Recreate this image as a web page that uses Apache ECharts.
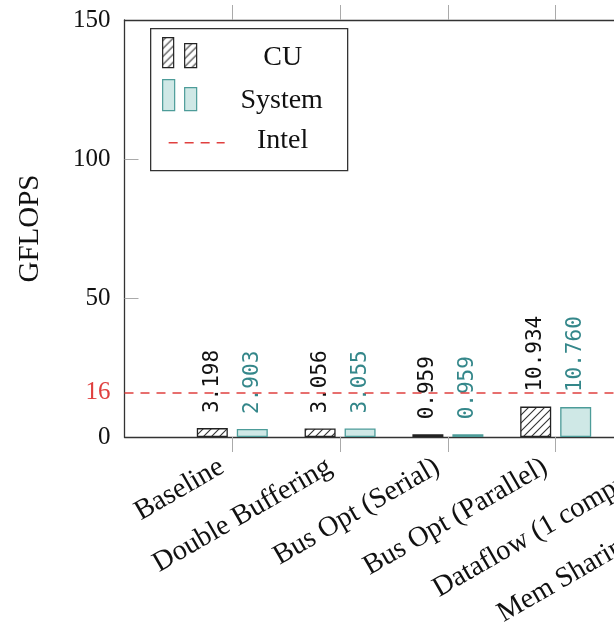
<!DOCTYPE html>
<html>
<head>
<meta charset="utf-8">
<script src="https://cdn.jsdelivr.net/npm/echarts@6/dist/echarts.min.js"></script>
<style>
  html, body { margin: 0; padding: 0; background: #fff; }
  #chart { width: 614px; height: 624px; }
</style>
</head>
<body>
<div id="chart"></div>
<script>
// Optimisation steps (x positions 1..n on the category scale)
const categories = [
  'Baseline',
  'Double Buffering',
  'Bus Opt (Serial)',
  'Bus Opt (Parallel)',
  'Dataflow (1 compute)',
  'Mem Sharing (2 compute)'
];
// GFLOPS measured for the compute unit alone and for the whole system
const cuValues = [3.198, 3.056, 0.959, 10.934];
const systemValues = [2.903, 3.055, 0.959, 10.760];
// Reference CPU throughput
const intelPeak = 16;
const yTicks = [0, 50, 100, 150];

const SERIF = "'Liberation Serif', 'DejaVu Serif', serif";
const MONO = "'DejaVu Sans Mono', monospace";
const TEAL_FILL = '#cfe8e6';
const TEAL_EDGE = '#4d9c99';
const TEAL_TEXT = '#34878a';
const RED = '#e0403f';

// North-east hatching tile used for the CU bars
function hatchTile() {
  const c = document.createElement('canvas');
  c.width = 8; c.height = 8;
  const g = c.getContext('2d');
  g.fillStyle = '#fff';
  g.fillRect(0, 0, 8, 8);
  g.strokeStyle = '#333';
  g.lineWidth = 1.1;
  g.beginPath();
  g.moveTo(0, 8); g.lineTo(8, 0);
  g.moveTo(-2, 2); g.lineTo(2, -2);
  g.moveTo(6, 10); g.lineTo(10, 6);
  g.stroke();
  return c;
}
const hatch = { image: hatchTile(), repeat: 'repeat' };

const toPoints = vals => vals.map((v, i) => [i + 1, v]);
// Ticks only at category positions, not at the frame corner
const categoryTicks = categories.map((_, i) => i + 1);

const chart = echarts.init(document.getElementById('chart'), null, { renderer: 'canvas' });

const xCommon = {
  type: 'value',
  min: 0,
  max: 6.5,
  interval: 1,
  splitLine: { show: false },
  axisLine: { show: true, onZero: false, lineStyle: { color: '#333', width: 1.3 } },
  axisTick: { show: true, inside: false, length: 15, customValues: categoryTicks,
              lineStyle: { color: '#aaa', width: 1 } }
};

const legendX = 150, legendY = 28;

chart.setOption({
  animation: false,
  grid: { left: 124.5, top: 20, width: 700.7, height: 417, containLabel: false, outerBoundsMode: 'none' },
  xAxis: [
    Object.assign({}, xCommon, {
      position: 'bottom',
      axisLabel: {
        rotate: 30,
        margin: 22,
        padding: [0, 12, 0, 0],
        fontFamily: SERIF,
        fontSize: 28.5,
        color: '#111',
        formatter: v => categories[v - 1] || ''
      }
    }),
    Object.assign({}, xCommon, {
      position: 'top',
      axisLabel: { show: false }
    })
  ],
  yAxis: {
    type: 'value',
    min: yTicks[0],
    max: yTicks[yTicks.length - 1],
    interval: 50,
    name: 'GFLOPS',
    nameLocation: 'middle',
    nameGap: 80,
    nameTextStyle: { fontFamily: SERIF, fontSize: 29, color: '#111' },
    splitLine: { show: false },
    axisLine: { show: true, lineStyle: { color: '#333', width: 1.3 } },
    axisTick: { show: true, inside: true, length: 14, customValues: yTicks.slice(1, -1),
                lineStyle: { color: '#aaa', width: 1 } },
    axisLabel: { margin: 14, fontFamily: SERIF, fontSize: 25, color: '#111' }
  },
  series: [
    {
      name: 'CU',
      type: 'bar',
      data: toPoints(cuValues),
      barWidth: 31,
      barGap: '29%',
      itemStyle: { color: hatch, borderColor: '#222', borderWidth: 1.3 },
      label: {
        show: true,
        position: 'top',
        distance: 15,
        rotate: 90,
        align: 'left',
        verticalAlign: 'middle',
        fontFamily: MONO,
        fontSize: 21,
        color: '#111',
        formatter: p => p.value[1].toFixed(3)
      },
      markLine: {
        silent: true,
        symbol: ['none', 'none'],
        lineStyle: { color: RED, type: [9, 7], width: 1.5 },
        label: {
          show: true,
          position: 'start',
          distance: 14,
          formatter: String(intelPeak),
          fontFamily: SERIF,
          fontSize: 25,
          color: RED
        },
        data: [{ yAxis: intelPeak }]
      }
    },
    {
      name: 'System',
      type: 'bar',
      data: toPoints(systemValues),
      barWidth: 31,
      itemStyle: { color: TEAL_FILL, borderColor: TEAL_EDGE, borderWidth: 1.3 },
      label: {
        show: true,
        position: 'top',
        distance: 15,
        rotate: 90,
        align: 'left',
        verticalAlign: 'middle',
        fontFamily: MONO,
        fontSize: 21,
        color: TEAL_TEXT,
        formatter: p => p.value[1].toFixed(3)
      }
    }
  ],
  graphic: [
    {
      type: 'group',
      left: legendX,
      top: legendY,
      children: [
        { type: 'rect', shape: { x: 0, y: 0, width: 197, height: 142 },
          style: { fill: '#fff', stroke: '#333', lineWidth: 1.3 } },
        { type: 'rect', shape: { x: 12, y: 9, width: 11, height: 30 },
          style: { fill: hatch, stroke: '#222', lineWidth: 1.2 } },
        { type: 'rect', shape: { x: 34, y: 15, width: 12, height: 24 },
          style: { fill: hatch, stroke: '#222', lineWidth: 1.2 } },
        { type: 'rect', shape: { x: 12, y: 51, width: 12, height: 31 },
          style: { fill: TEAL_FILL, stroke: TEAL_EDGE, lineWidth: 1.2 } },
        { type: 'rect', shape: { x: 34, y: 59, width: 12, height: 23 },
          style: { fill: TEAL_FILL, stroke: TEAL_EDGE, lineWidth: 1.2 } },
        { type: 'line', shape: { x1: 18, y1: 114, x2: 74, y2: 114 },
          style: { stroke: RED, lineWidth: 1.5, lineDash: [9, 7] } },
        { type: 'text', x: 132, y: 29,
          style: { text: 'CU', font: "28px " + SERIF, fill: '#111', align: 'center', verticalAlign: 'middle' } },
        { type: 'text', x: 131, y: 72,
          style: { text: 'System', font: "28px " + SERIF, fill: '#111', align: 'center', verticalAlign: 'middle' } },
        { type: 'text', x: 132, y: 112,
          style: { text: 'Intel', font: "28px " + SERIF, fill: '#111', align: 'center', verticalAlign: 'middle' } }
      ]
    }
  ]
});
</script>
</body>
</html>
